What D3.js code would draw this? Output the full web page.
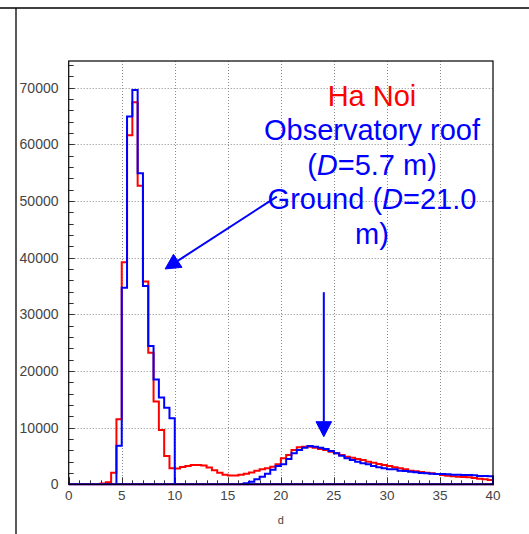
<!DOCTYPE html>
<html>
<head>
<meta charset="utf-8">
<script src="https://cdn.jsdelivr.net/npm/d3@7"></script>
<style>
  html, body { margin: 0; padding: 0; background: #fff; }
  svg { display: block; }
</style>
</head>
<body>
<svg id="chart" width="529" height="534"></svg>
<script>
// ---- data ----
const binWidth = 0.5;
const binStarts = d3.range(0, 40, 0.5);
const redCounts = [
  0, 0, 0, 0, 0, 20, 150, 350, 2050, 11500,
  39200, 61600, 67400, 52700, 35800, 23200, 14600, 9600, 5000, 2820,
  2800, 3050, 3250, 3400, 3400, 3300, 2950, 2500, 2050, 1700,
  1550, 1550, 1700, 1850, 2100, 2400, 2650, 2850, 3100, 3550,
  4600, 5170, 6050, 6520, 6640, 6640, 6460, 6230, 6050, 5760,
  5460, 5170, 4870, 4700, 4460, 4290, 3990, 3820, 3580, 3400,
  3230, 2990, 2820, 2640, 2400, 2290, 2170, 2050, 1930, 1820,
  1640, 1520, 1410, 1350, 1290, 1230, 1110, 990, 880, 760
];
const blueCounts = [
  0, 0, 0, 0, 0, 0, 0, 0, 0, 6800,
  34700, 64900, 69600, 54900, 35000, 24400, 18500, 15300, 13500, 11650,
  0, 0, 0, 0, 0, 0, 0, 0, 0, 0,
  0, 0, 0, 180, 470, 880, 1350, 1850, 2550, 3250,
  3520, 4460, 5460, 6050, 6460, 6760, 6640, 6460, 6230, 5870,
  5460, 5050, 4580, 4290, 3990, 3700, 3520, 3230, 2990, 2820,
  2640, 2640, 2400, 2350, 2230, 2110, 1990, 1930, 1880, 1820,
  1820, 1760, 1700, 1700, 1640, 1640, 1580, 1460, 1460, 1410
];
const xMajorTicks = [0, 5, 10, 15, 20, 25, 30, 35, 40];
const yMajorTicks = [0, 10000, 20000, 30000, 40000, 50000, 60000, 70000];
const xTitle = "d";
const titleLines = ["Ha Noi"];
const arrowRoof = { from: [19.62, 50760], to: [9.09, 38000] };
const arrowGround = { from: [24.05, 33900], to: [24.05, 8400] };

// ---- layout ----
const svg = d3.select("#chart");
const x = d3.scaleLinear().domain([0, 40]).range([68.7, 493]);
const y = d3.scaleLinear().domain([0, 74700]).range([484.3, 61]);
const font = "'Liberation Sans', Arial, Helvetica, sans-serif";

// outer pad lines
svg.append("line").attr("x1", 0).attr("x2", 529).attr("y1", 8).attr("y2", 8)
  .attr("stroke", "#000").attr("stroke-width", 1.3);
svg.append("line").attr("x1", 16).attr("x2", 16).attr("y1", 8).attr("y2", 534)
  .attr("stroke", "#000").attr("stroke-width", 1.3);

// grid
const gridColor = "#8a8a8a";
svg.append("g").selectAll("line").data(xMajorTicks.slice(1, -1)).join("line")
  .attr("x1", d => Math.round(x(d)) + 0.5).attr("x2", d => Math.round(x(d)) + 0.5)
  .attr("y1", y.range()[1]).attr("y2", y.range()[0])
  .attr("stroke", gridColor).attr("stroke-width", 1).attr("stroke-dasharray", "1,2");
svg.append("g").selectAll("line").data(yMajorTicks.slice(1)).join("line")
  .attr("x1", x.range()[0]).attr("x2", x.range()[1])
  .attr("y1", d => Math.round(y(d)) + 0.5).attr("y2", d => Math.round(y(d)) + 0.5)
  .attr("stroke", gridColor).attr("stroke-width", 1).attr("stroke-dasharray", "1,2");

// axes ticks (inside frame)
const tickColor = "#333";
const xMinor = d3.range(0, 41, 1);
svg.append("g").selectAll("line").data(xMinor).join("line")
  .attr("x1", d => Math.round(x(d)) + 0.5).attr("x2", d => Math.round(x(d)) + 0.5)
  .attr("y1", y(0)).attr("y2", d => y(0) - (d % 5 === 0 ? 7 : 4))
  .attr("stroke", tickColor).attr("stroke-width", 1);
const yMinor = d3.range(0, 74001, 2000);
svg.append("g").selectAll("line").data(yMinor).join("line")
  .attr("y1", d => Math.round(y(d)) + 0.5).attr("y2", d => Math.round(y(d)) + 0.5)
  .attr("x1", x(0)).attr("x2", d => x(0) + (d % 10000 === 0 ? 6 : 5))
  .attr("stroke", tickColor).attr("stroke-width", 1);

// tick labels
svg.append("g").selectAll("text").data(xMajorTicks).join("text")
  .attr("x", d => x(d)).attr("y", 499.5)
  .attr("text-anchor", "middle").attr("font-family", font).attr("font-size", 13.5)
  .attr("fill", "#444").text(d => d);
svg.append("g").selectAll("text").data(yMajorTicks).join("text")
  .attr("x", 58.5).attr("y", d => y(d) + 5)
  .attr("text-anchor", "end").attr("font-family", font).attr("font-size", 14)
  .attr("fill", "#444").text(d => d);
svg.append("text").attr("x", (x.range()[0] + x.range()[1]) / 2).attr("y", 524)
  .attr("text-anchor", "middle").attr("font-family", font).attr("font-size", 11)
  .attr("fill", "#444").text(xTitle);

// histograms
function histPath(counts) {
  const p = d3.path();
  p.moveTo(x(0), y(0));
  counts.forEach((c, i) => {
    const x0 = binStarts[i], x1 = binStarts[i] + binWidth;
    p.lineTo(x(x0), y(c));
    p.lineTo(x(x1), y(c));
  });
  p.lineTo(x(40), y(0));
  p.closePath();
  return p.toString();
}
svg.append("path").attr("d", histPath(redCounts))
  .attr("fill", "none").attr("stroke", "#ff0000").attr("stroke-width", 2)
  .attr("stroke-linejoin", "miter");
svg.append("path").attr("d", histPath(blueCounts))
  .attr("fill", "none").attr("stroke", "#0000ff").attr("stroke-width", 2)
  .attr("stroke-linejoin", "miter");

// frame
svg.append("rect")
  .attr("x", x.range()[0]).attr("y", y.range()[1])
  .attr("width", x.range()[1] - x.range()[0]).attr("height", y.range()[0] - y.range()[1])
  .attr("fill", "none").attr("stroke", "#000").attr("stroke-width", 1.2);

// arrows
function arrow(a) {
  const x1 = x(a.from[0]), y1 = y(a.from[1]), x2 = x(a.to[0]), y2 = y(a.to[1]);
  const ang = Math.atan2(y2 - y1, x2 - x1);
  const L = 15, W = 7.8;
  const bx = x2 - L * Math.cos(ang), by = y2 - L * Math.sin(ang);
  svg.append("line").attr("x1", x1).attr("y1", y1).attr("x2", bx).attr("y2", by)
    .attr("stroke", "#0000ff").attr("stroke-width", 2);
  const px = -Math.sin(ang), py = Math.cos(ang);
  svg.append("path")
    .attr("d", `M${x2},${y2}L${bx + W * px},${by + W * py}L${bx - W * px},${by - W * py}Z`)
    .attr("fill", "#0000ff").attr("stroke", "#0000ff").attr("stroke-width", 1);
}
arrow(arrowRoof);
arrow(arrowGround);

// annotation text
const cx = 372, fs = 29;
const t = svg.append("g").attr("font-family", font).attr("font-size", fs).attr("text-anchor", "middle");
t.append("text").attr("x", cx).attr("y", 105.5).attr("fill", "#ff0000").text(titleLines[0]);
t.append("text").attr("x", cx).attr("y", 140).attr("fill", "#0000ff").text("Observatory roof");
const l3 = t.append("text").attr("x", cx).attr("y", 175).attr("fill", "#0000ff");
l3.append("tspan").text("(");
l3.append("tspan").attr("font-style", "italic").text("D");
l3.append("tspan").text("=5.7 m)");
const l4 = t.append("text").attr("x", cx).attr("y", 209).attr("fill", "#0000ff");
l4.append("tspan").text("Ground (");
l4.append("tspan").attr("font-style", "italic").text("D");
l4.append("tspan").text("=21.0");
t.append("text").attr("x", cx).attr("y", 244).attr("fill", "#0000ff").text("m)");
</script>
</body>
</html>
